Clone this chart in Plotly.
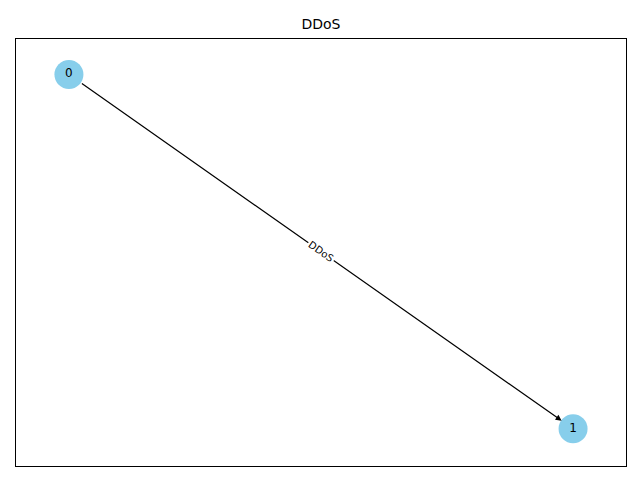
import plotly.graph_objects as go

# node positions and edges
node_ids = ["0", "1"]
node_x = [-1.0, 1.0]
node_y = [1.0, -1.0]
edges = [(0, 1, "DDoS")]

fig = go.Figure()

fig.add_trace(go.Scatter(x=node_x, y=node_y, mode="markers+text", text=node_ids,
                         textposition="middle center",
                         marker=dict(size=29, color="#87CEEB"),
                         textfont=dict(size=12, color="black", family="DejaVu Sans"),
                         showlegend=False))

for a, b, lab in edges:
    fig.add_annotation(x=node_x[b], y=node_y[b], ax=node_x[a], ay=node_y[a],
                       xref="x", yref="y", axref="x", ayref="y", text="",
                       showarrow=True, arrowhead=2, arrowsize=1, arrowwidth=1.2,
                       arrowcolor="black", standoff=14, startstandoff=14)
    fig.add_annotation(x=(node_x[a] + node_x[b]) / 2, y=(node_y[a] + node_y[b]) / 2,
                       text=lab, showarrow=False, textangle=35, bgcolor="white",
                       font=dict(size=10, color="black", family="DejaVu Sans"))

axis = dict(showgrid=False, zeroline=False, showticklabels=False, ticks="",
            showline=True, mirror=True, linecolor="black", linewidth=1)
fig.update_layout(
    width=640, height=480, plot_bgcolor="white", paper_bgcolor="white",
    margin=dict(l=8, r=22, t=31, b=22),
    title=dict(text="DDoS", x=0.5, xref="paper", y=0.966, xanchor="center",
               yanchor="middle",
               font=dict(size=14, color="black", family="DejaVu Sans")),
    xaxis=dict(range=[-1.21, 1.21], **axis),
    yaxis=dict(range=[-1.21, 1.2], **axis),
)

fig.write_html("out.html")
